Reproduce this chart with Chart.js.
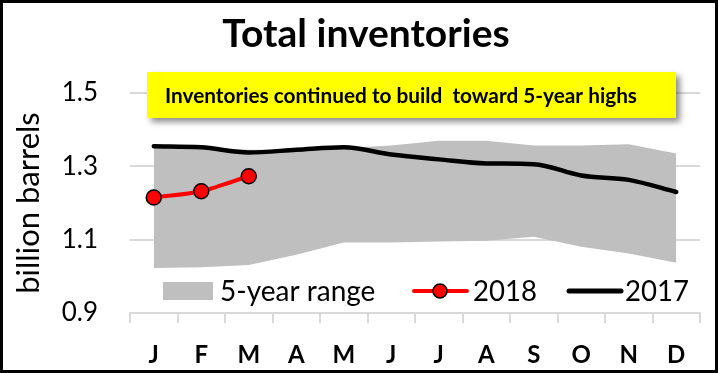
<!DOCTYPE html>
<html>
<head>
<meta charset="utf-8">
<script src="https://cdn.jsdelivr.net/npm/chart.js@4.4.1/dist/chart.umd.min.js"></script>
<style>
html, body { margin: 0; padding: 0; background: #fff; }
#wrap { width: 718px; height: 373px; }
</style>
</head>
<body>
<div id="wrap"><canvas id="myChart" width="718" height="373"></canvas></div>
<script>
// data
const months = ['J', 'F', 'M', 'A', 'M', 'J', 'J', 'A', 'S', 'O', 'N', 'D']
const yTicks = [0.9, 1.1, 1.3, 1.5]
const rangeLow = [1.023, 1.025, 1.031, 1.059, 1.092, 1.092, 1.095, 1.097, 1.108, 1.081, 1.062, 1.037]
const rangeHigh = [1.355, 1.353, 1.345, 1.345, 1.35, 1.357, 1.37, 1.37, 1.357, 1.357, 1.36, 1.335]
const inv2018 = [1.215, 1.232, 1.273]
const inv2017 = [1.355, 1.352, 1.338, 1.345, 1.352, 1.332, 1.319, 1.308, 1.306, 1.275, 1.263, 1.23]

const FONT = 'Lato, "Open Sans", sans-serif'
const GRID = '#d9d9d9'

// title, yellow note, legend and frame
const decor = {
    id: 'decor',
    afterDraw(chart) {
        const ctx = chart.ctx
        ctx.save()

        // title
        ctx.fillStyle = '#000'
        ctx.textAlign = 'center'
        ctx.textBaseline = 'alphabetic'
        ctx.font = 'bold 39px ' + FONT
        ctx.fillText('Total inventories', 366, 47, 298)

        // yellow note with shadow
        ctx.shadowColor = 'rgba(0,0,0,0.45)'
        ctx.shadowBlur = 6
        ctx.shadowOffsetX = 4
        ctx.shadowOffsetY = 4
        ctx.fillStyle = '#ffff00'
        ctx.fillRect(147, 72, 529, 46)
        ctx.shadowColor = 'transparent'
        ctx.fillStyle = '#000'
        ctx.font = 'bold 21px ' + FONT
        ctx.textBaseline = 'middle'
        ctx.fillText('Inventories continued to build  toward 5-year highs', 401, 96, 472)

        // legend inside the plot
        const ly = 291
        ctx.textAlign = 'left'
        ctx.font = '28px ' + FONT
        ctx.fillStyle = '#bfbfbf'
        ctx.fillRect(163, 282, 50, 18)
        ctx.fillStyle = '#000'
        ctx.fillText('5-year range', 220, ly + 1, 164)

        ctx.strokeStyle = '#ff0000'
        ctx.lineWidth = 4
        ctx.lineCap = 'round'
        ctx.beginPath()
        ctx.moveTo(414, ly)
        ctx.lineTo(467, ly)
        ctx.stroke()
        ctx.beginPath()
        ctx.arc(440, ly, 7, 0, Math.PI * 2)
        ctx.fillStyle = '#ff0000'
        ctx.fill()
        ctx.lineWidth = 1.5
        ctx.strokeStyle = '#000'
        ctx.stroke()
        ctx.fillStyle = '#000'
        ctx.fillText('2018', 473, ly + 1, 64)

        ctx.strokeStyle = '#000'
        ctx.lineWidth = 5
        ctx.beginPath()
        ctx.moveTo(569, ly)
        ctx.lineTo(621, ly)
        ctx.stroke()
        ctx.fillText('2017', 625, ly + 1, 64)

        // outer frame
        ctx.lineWidth = 3
        ctx.strokeStyle = '#000'
        ctx.strokeRect(1.5, 1.5, chart.width - 3, chart.height - 3)
        ctx.restore()
    }
}

const ctx = document.getElementById('myChart').getContext('2d')
const myChart = new Chart(ctx, {
    type: 'line',
    data: {
        labels: months,
        datasets: [
            {
                label: 'low',
                data: rangeLow,
                borderWidth: 0,
                pointRadius: 0,
                tension: 0,
                fill: false,
                order: 3
            },
            {
                label: '5-year range',
                data: rangeHigh,
                borderWidth: 0,
                pointRadius: 0,
                tension: 0,
                backgroundColor: '#bfbfbf',
                fill: '-1',
                order: 3
            },
            {
                label: '2017',
                data: inv2017,
                borderColor: '#000',
                borderWidth: 4.5,
                pointRadius: 0,
                cubicInterpolationMode: 'monotone',
                borderCapStyle: 'round',
                fill: false,
                order: 2
            },
            {
                label: '2018',
                data: inv2018,
                borderColor: '#ff0000',
                borderWidth: 4,
                pointRadius: 7.5,
                pointBackgroundColor: '#ff0000',
                pointBorderColor: '#000',
                pointBorderWidth: 1.5,
                tension: 0.3,
                fill: false,
                order: 1
            }
        ]
    },
    options: {
        responsive: false,
        animation: false,
        layout: { padding: { left: 0, top: 93, right: 18, bottom: 0 } },
        plugins: {
            legend: { display: false },
            tooltip: { enabled: false }
        },
        scales: {
            x: {
                offset: true,
                grid: {
                    offset: true,
                    drawOnChartArea: false,
                    drawTicks: true,
                    tickLength: 10,
                    color: GRID,
                    lineWidth: 2
                },
                border: { display: true, color: GRID, width: 2 },
                ticks: {
                    color: '#000',
                    padding: 18,
                    maxRotation: 0,
                    autoSkip: false,
                    font: { family: FONT, size: 24, weight: 'bold' }
                },
                afterFit: (scale) => { scale.height = 60 }
            },
            y: {
                min: 0.9,
                max: 1.5,
                afterBuildTicks: (scale) => { scale.ticks = yTicks.map(v => ({ value: v })) },
                grid: { color: GRID, lineWidth: 2, drawTicks: false },
                border: { display: false },
                ticks: {
                    color: '#000',
                    padding: 32,
                    font: { family: FONT, size: 26 },
                    callback: (v) => v.toFixed(1)
                },
                title: {
                    display: true,
                    text: 'billion barrels',
                    color: '#000',
                    font: { family: FONT, size: 31 },
                    padding: { top: 10, bottom: 0 }
                },
                afterFit: (scale) => { scale.width = 130 }
            }
        }
    },
    plugins: [decor]
})
</script>
</body>
</html>
